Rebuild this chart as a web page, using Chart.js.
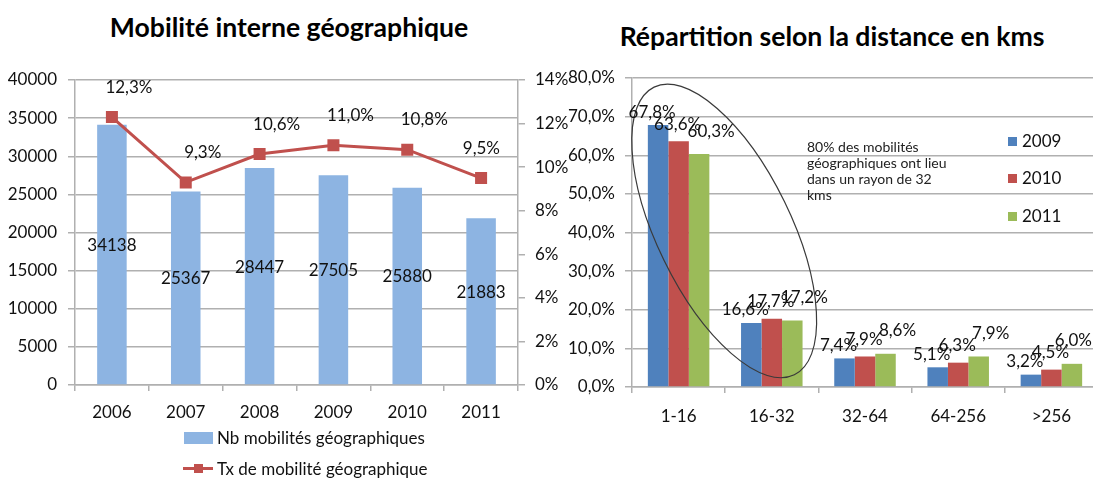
<!DOCTYPE html>
<html><head><meta charset="utf-8">
<script src="https://cdn.jsdelivr.net/npm/chart.js@4.4.0/dist/chart.umd.min.js"></script>
<style>
html,body{margin:0;padding:0;background:#fff;width:1093px;height:479px;overflow:hidden;font-family:Lato, "DejaVu Sans", sans-serif;color:#111;}
#w1{position:absolute;left:0;top:0;width:570px;height:479px;}
#w2{position:absolute;left:560px;top:0;width:540px;height:479px;}
.title{position:absolute;font-weight:bold;white-space:nowrap;transform:translate(-50%,-50%);font-size:26.6px;color:#000;}
.leg{position:absolute;white-space:nowrap;font-size:17px;line-height:20px;transform:translateY(-50%);}
.note{position:absolute;left:807px;top:139px;font-size:14px;line-height:16px;color:#222;white-space:nowrap;}
.sw{position:absolute;}
</style>
</head><body>
<div class="title" style="left:289px;top:27px;">Mobilité interne géographique</div>
<div class="title" style="left:832px;top:36px;">Répartition selon la distance en kms</div>
<div id="w1"><canvas id="c1"></canvas></div>
<div id="w2"><canvas id="c2"></canvas></div>

<!-- left legend -->
<div class="sw" style="left:184px;top:432px;width:29px;height:12px;background:#8DB4E2;"></div>
<div class="leg" style="left:217px;top:438px;">Nb mobilités géographiques</div>
<div class="sw" style="left:183px;top:467px;width:30px;height:3px;background:#C0504D;"></div>
<div class="sw" style="left:194px;top:464px;width:9px;height:9px;background:#C0504D;"></div>
<div class="leg" style="left:217px;top:469px;">Tx de mobilité géographique</div>

<!-- right legend -->
<div class="sw" style="left:1008px;top:137px;width:9px;height:9px;background:#4F81BD;"></div>
<div class="leg" style="left:1022px;top:141px;">2009</div>
<div class="sw" style="left:1008px;top:174px;width:9px;height:9px;background:#C0504D;"></div>
<div class="leg" style="left:1022px;top:178px;">2010</div>
<div class="sw" style="left:1008px;top:212px;width:9px;height:9px;background:#9BBB59;"></div>
<div class="leg" style="left:1022px;top:216px;">2011</div>

<div class="note">80% des mobilités<br>géographiques ont lieu<br>dans un rayon de 32<br>kms</div>

<script>
// ---- data: left chart
const years = ['2006','2007','2008','2009','2010','2011'];
const nbMobilites = [34138, 25367, 28447, 27505, 25880, 21883];
const txMobilite = [12.3, 9.3, 10.6, 11.0, 10.8, 9.5];
// ---- data: right chart
const distances = ['1-16','16-32','32-64','64-256','>256'];
const rep2009 = [67.8, 16.6, 7.4, 5.1, 3.2];
const rep2010 = [63.6, 17.7, 7.9, 6.3, 4.5];
const rep2011 = [60.3, 17.2, 8.6, 7.9, 6.0];

const FONT = {family: 'Lato', size: 17};
const GRID = '#b0b0b0';
const TXT = '#111';
const fr = (v, d) => v.toFixed(d).replace('.', ',');

const labelPlugin = {
  id: 'vlabels',
  afterDatasetsDraw(chart) {
    const ctx = chart.ctx;
    ctx.save();
    ctx.font = '17px Lato';
    ctx.fillStyle = TXT;
    ctx.textAlign = 'center';
    ctx.textBaseline = 'middle';
    chart.data.datasets.forEach((ds, i) => {
      const L = ds.lbl;
      if (!L) return;
      const meta = chart.getDatasetMeta(i);
      meta.data.forEach((el, j) => {
        const txt = L.fmt(ds.data[j]);
        let x, y;
        if (L.mode === 'mid') {
          x = el.x; y = (el.y + el.base) / 2 + L.dy;
        } else {
          x = el.x + L.dx; y = el.y - L.dy;
        }
        const w = ctx.measureText(txt).width;
        if (L.clamp && x + w / 2 > chart.chartArea.right - L.clamp) x = chart.chartArea.right - L.clamp - w / 2;
        ctx.fillText(txt, x, y);
      });
    });
    ctx.restore();
  }
};

const ellipsePlugin = {
  id: 'ellipse',
  afterDatasetsDraw(chart) {
    if (!chart.options.plugins.ellipse || !chart.options.plugins.ellipse.on) return;
    const xs = chart.scales.x, ys = chart.scales.y;
    const cx = xs.getPixelForValue(0.5) - 1;
    const cy = ys.getPixelForValue(40.4);
    const ctx = chart.ctx;
    ctx.save();
    ctx.beginPath();
    ctx.ellipse(cx, cy, 160, 67, 64 * Math.PI / 180, 0, Math.PI * 2);
    ctx.strokeStyle = '#3a3a3a';
    ctx.lineWidth = 1.2;
    ctx.stroke();
    ctx.restore();
  }
};

new Chart(document.getElementById('c1'), {
  data: {
    labels: years,
    datasets: [
      {type: 'line', label: 'Tx de mobilité géographique', data: txMobilite, yAxisID: 'y1', order: 0,
       borderColor: '#C0504D', backgroundColor: '#C0504D', borderWidth: 3, pointStyle: 'rect', pointRadius: 8.5,
       pointBorderWidth: 0, tension: 0,
       lbl: {mode: 'top', dx: 17, dy: 30, clamp: 18, fmt: v => fr(v, 1) + '%'}},
      {type: 'bar', label: 'Nb mobilités géographiques', data: nbMobilites, yAxisID: 'y', order: 1,
       backgroundColor: '#8DB4E2', barPercentage: 0.4, categoryPercentage: 1,
       lbl: {mode: 'mid', dy: -9, fmt: v => String(v)}}
    ]
  },
  options: {
    responsive: true, maintainAspectRatio: false, animation: false,
    layout: {padding: {top: 80, left: 0, right: 0, bottom: 0}},
    plugins: {legend: {display: false}, tooltip: {enabled: false}},
    scales: {
      x: {
        grid: {display: true, drawOnChartArea: false, color: GRID, tickLength: 6, lineWidth: 1.5},
        border: {color: GRID, width: 1.5},
        ticks: {font: FONT, color: TXT, padding: 11},
        afterFit: s => { s.height = 94; }
      },
      y: {
        position: 'left', min: 0, max: 40000,
        grid: {color: GRID, lineWidth: 1.5, tickLength: 7},
        border: {color: GRID, width: 1.5},
        ticks: {stepSize: 5000, font: FONT, color: TXT, padding: 11, callback: v => String(v)},
        afterFit: s => { s.width = 75; }
      },
      y1: {
        position: 'right', min: 0, max: 14,
        grid: {drawOnChartArea: false, color: GRID, lineWidth: 1.5, tickLength: 7},
        border: {color: GRID, width: 1.5},
        ticks: {stepSize: 2, font: FONT, color: TXT, padding: 10, callback: v => v + '%'},
        afterFit: s => { s.width = 52; }
      }
    }
  },
  plugins: [labelPlugin]
});

const mk = (label, data, color, dx, dy) => ({
  label, data, backgroundColor: color, barPercentage: 1, categoryPercentage: 0.66,
  lbl: {mode: 'top', dx, dy, clamp: 6, fmt: v => fr(v, 1) + '%'}
});

new Chart(document.getElementById('c2'), {
  type: 'bar',
  data: {
    labels: distances,
    datasets: [
      mk('2009', rep2009, '#4F81BD', -6, 13),
      mk('2010', rep2010, '#C0504D', -1, 17),
      mk('2011', rep2011, '#9BBB59', 12, 23)
    ]
  },
  options: {
    responsive: true, maintainAspectRatio: false, animation: false,
    layout: {padding: {top: 78, left: 0, right: 2, bottom: 0}},
    plugins: {legend: {display: false}, tooltip: {enabled: false}, ellipse: {on: true}},
    scales: {
      x: {
        grid: {display: true, drawOnChartArea: false, color: GRID, tickLength: 6, lineWidth: 1.5},
        border: {color: GRID, width: 1.5},
        ticks: {font: FONT, color: TXT, padding: 13},
        afterFit: s => { s.height = 92; }
      },
      y: {
        min: 0, max: 80,
        grid: {color: GRID, lineWidth: 1.5, tickLength: 7},
        border: {color: GRID, width: 1.5},
        ticks: {stepSize: 10, font: FONT, color: TXT, padding: 10, callback: v => fr(v, 1) + '%'},
        afterFit: s => { s.width = 72; }
      }
    }
  },
  plugins: [ellipsePlugin, labelPlugin]
});
</script>
</body></html>
